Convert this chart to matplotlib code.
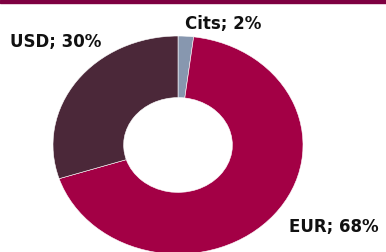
import matplotlib
matplotlib.use("Agg")
import matplotlib.pyplot as plt
from matplotlib.patches import Rectangle

# data
labels = ["Cits", "EUR", "USD"]
shares = [2, 68, 30]
colors = ["#8797AF", "#A30045", "#4B2839"]

W, H = 386, 252
fig = plt.figure(figsize=(W / 100, H / 100), dpi=100)

# dark title strip at the top (title itself is cut off)
fig.patches.append(Rectangle((0, 1 - 3 / H), 1, 3 / H, transform=fig.transFigure,
                             color="#7E0041", zorder=0))

# donut is slightly squashed vertically in the reference
cx, cy, rx, ry = 178, 145, 125, 109
ax = fig.add_axes([(cx - rx) / W, (H - cy - ry) / H, 2 * rx / W, 2 * ry / H])
ax.pie(shares, colors=colors, startangle=90, counterclock=False,
       wedgeprops=dict(width=0.565, edgecolor="white", linewidth=0.4))
ax.set_aspect("auto")
ax.set_xlim(-1, 1)
ax.set_ylim(-1, 1)
ax.axis("off")

font = dict(family="DejaVu Sans", fontweight="bold", fontsize=12, color="#111111")
# left edge and baseline of each label, in pixels from the top-left
pos = {"Cits": (185, 29), "EUR": (289, 232), "USD": (10, 47)}
for lab, val in zip(labels, shares):
    x, y = pos[lab]
    fig.text(x / W, 1 - y / H, f"{lab}; {val}%", ha="left", va="baseline", **font)

fig.savefig("out.png", dpi=100)
